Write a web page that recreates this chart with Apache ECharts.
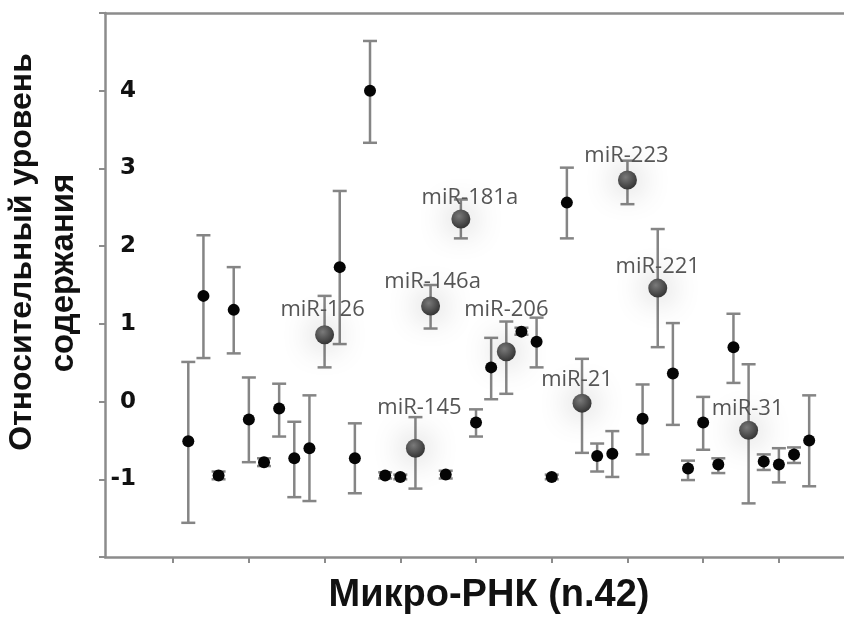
<!DOCTYPE html>
<html>
<head>
<meta charset="utf-8">
<script src="https://cdn.jsdelivr.net/npm/echarts@6/dist/echarts.min.js"></script>
<style>
  html, body { margin: 0; padding: 0; background: #fff; }
  #main { width: 844px; height: 621px; }
</style>
</head>
<body>
<div id="main"></div>
<script>
// 42 micro-RNAs, in the order they are plotted
var mirNames = ['', '', '', '', '', '', '', '', '', 'miR-126',
    '', '', '', '', '', 'miR-145', 'miR-146a', '', 'miR-181a', '',
    '', 'miR-206', '', '', '', '', 'miR-21', '', '', 'miR-223',
    '', 'miR-221', '', '', '', '', '', 'miR-31', '', '',
    '', '']
var values = [-0.51, 1.36, -0.95, 1.18, -0.23, -0.78, -0.09, -0.73, -0.60, 0.86,
    1.73, -0.73, 4.0, -0.95, -0.97, -0.60, 1.23, -0.94, 2.35, -0.27,
    0.44, 0.64, 0.90, 0.77, -0.97, 2.56, -0.02, -0.70, -0.67, 2.85,
    -0.22, 1.46, 0.36, -0.86, -0.27, -0.81, 0.70, -0.37, -0.77, -0.81,
    -0.68, -0.50]
var errLow = [-1.56, 0.56, -1.00, 0.62, -0.78, -0.83, -0.45, -1.23, -1.28, 0.44,
    0.74, -1.18, 3.33, -0.99, -1.00, -1.12, 0.94, -0.99, 2.10, -0.45,
    0.03, 0.10, 0.86, 0.44, -1.00, 2.10, -0.66, -0.90, -0.97, 2.54,
    -0.68, 0.70, -0.30, -1.01, -0.62, -0.92, 0.24, -1.31, -0.88, -1.04,
    -0.79, -1.09]
var errHigh = [0.51, 2.14, -0.90, 1.73, 0.31, -0.73, 0.23, -0.26, 0.08, 1.36,
    2.71, -0.28, 4.64, -0.91, -0.94, -0.20, 1.50, -0.89, 2.60, -0.10,
    0.82, 1.03, 0.95, 1.08, -0.94, 3.01, 0.55, -0.54, -0.38, 3.10,
    0.22, 2.22, 1.01, -0.76, 0.06, -0.73, 1.13, 0.48, -0.68, -0.60,
    -0.59, 0.08]
var yTickLabels = [-1, 0, 1, 2, 3, 4]
var xTicks = [0, 5, 10, 15, 20, 25, 30, 35, 40]

// label placement of the highlighted points (pixels from the marker)
var labelShift = {
    'miR-126': [-2, -25], 'miR-145': [4, -40], 'miR-146a': [2, -24],
    'miR-181a': [9, -21], 'miR-206': [0, -42], 'miR-21': [-5, -23],
    'miR-223': [-1, -24], 'miR-221': [0, -21], 'miR-31': [-1, -22],
}

var errData = [], plainData = [], markedData = []
values.forEach(function (v, i) {
    errData.push([i + 1, errLow[i], errHigh[i]])
    if (mirNames[i]) {
        markedData.push({
            name: mirNames[i],
            value: [i + 1, v],
            label: { offset: labelShift[mirNames[i]] },
        })
    } else {
        plainData.push([i + 1, v])
    }
})

var axisGray = '#8c8c8c'

function renderErr(params, api) {
    var x = api.value(0)
    var top = api.coord([x, api.value(2)])
    var bot = api.coord([x, api.value(1)])
    var w = 7
    var st = { stroke: '#858585', lineWidth: 2.5 }
    return {
        type: 'group',
        children: [
            { type: 'line', shape: { x1: top[0], y1: top[1], x2: bot[0], y2: bot[1] }, style: st },
            { type: 'line', shape: { x1: top[0] - w, y1: top[1], x2: top[0] + w, y2: top[1] }, style: st },
            { type: 'line', shape: { x1: bot[0] - w, y1: bot[1], x2: bot[0] + w, y2: bot[1] }, style: st },
        ],
    }
}

var chart = echarts.init(document.getElementById('main'))
var option = {
    backgroundColor: '#fff',
    animation: false,
    grid: { left: 105, right: 0, top: 13, bottom: 64 },
    xAxis: [
        {
            type: 'value',
            min: -4.5,
            max: 44.3,
            axisLine: { onZero: false, lineStyle: { color: axisGray, width: 2.5 } },
            axisTick: { show: true, customValues: xTicks, length: 6, lineStyle: { color: axisGray, width: 2 } },
            axisLabel: { show: false },
            splitLine: { show: false },
        },
        {
            type: 'value',
            position: 'top',
            min: -4.5,
            max: 44.3,
            axisLine: { onZero: false, lineStyle: { color: axisGray, width: 2.5 } },
            axisTick: { show: false },
            axisLabel: { show: false },
            splitLine: { show: false },
        },
    ],
    yAxis: {
        type: 'value',
        min: -2,
        max: 5,
        interval: 1,
        axisLine: { onZero: false, lineStyle: { color: axisGray, width: 2.5 } },
        axisTick: { show: true, length: 6, lineStyle: { color: axisGray, width: 2 } },
        axisLabel: {
            inside: true,
            align: 'right',
            margin: 31,
            fontFamily: 'DejaVu Sans',
            fontWeight: 'bold',
            fontSize: 23,
            color: '#111',
            formatter: function (v) {
                return yTickLabels.indexOf(v) >= 0 ? String(v) : ''
            },
        },
        splitLine: { show: false },
    },
    series: [
        {
            type: 'custom',
            renderItem: renderErr,
            encode: { x: 0, y: [1, 2] },
            data: errData,
            z: 1,
        },
        {
            type: 'scatter',
            symbolSize: 12,
            itemStyle: { color: '#050505', opacity: 1 },
            data: plainData,
            z: 3,
        },
        {
            type: 'scatter',
            symbolSize: 19,
            itemStyle: {
                opacity: 1,
                color: {
                    type: 'radial', x: 0.4, y: 0.35, r: 0.7,
                    colorStops: [
                        { offset: 0, color: '#7a7a7a' },
                        { offset: 1, color: '#303030' },
                    ],
                },
                shadowBlur: 32,
                shadowColor: 'rgba(0,0,0,0.4)',
            },
            label: {
                show: true,
                position: 'inside',
                formatter: '{b}',
                fontFamily: 'Open Sans',
                fontSize: 22,
                color: '#555',
            },
            data: markedData,
            z: 4,
        },
    ],
    graphic: [
        {
            type: 'text',
            x: 22, y: 252,
            rotation: Math.PI / 2,
            style: {
                text: 'Относительный уровень',
                fontFamily: 'Liberation Sans', fontWeight: 'bold', fontSize: 32,
                fill: '#111', textAlign: 'center', textVerticalAlign: 'middle',
            },
        },
        {
            type: 'text',
            x: 64, y: 273,
            rotation: Math.PI / 2,
            style: {
                text: 'содержания',
                fontFamily: 'Liberation Sans', fontWeight: 'bold', fontSize: 33,
                fill: '#111', textAlign: 'center', textVerticalAlign: 'middle',
            },
        },
        {
            type: 'text',
            x: 489, y: 596,
            style: {
                text: 'Микро-РНК (n.42)',
                fontFamily: 'Liberation Sans', fontWeight: 'bold', fontSize: 38,
                fill: '#111', textAlign: 'center', textVerticalAlign: 'middle',
            },
        },
    ],
}
chart.setOption(option)
</script>
</body>
</html>
